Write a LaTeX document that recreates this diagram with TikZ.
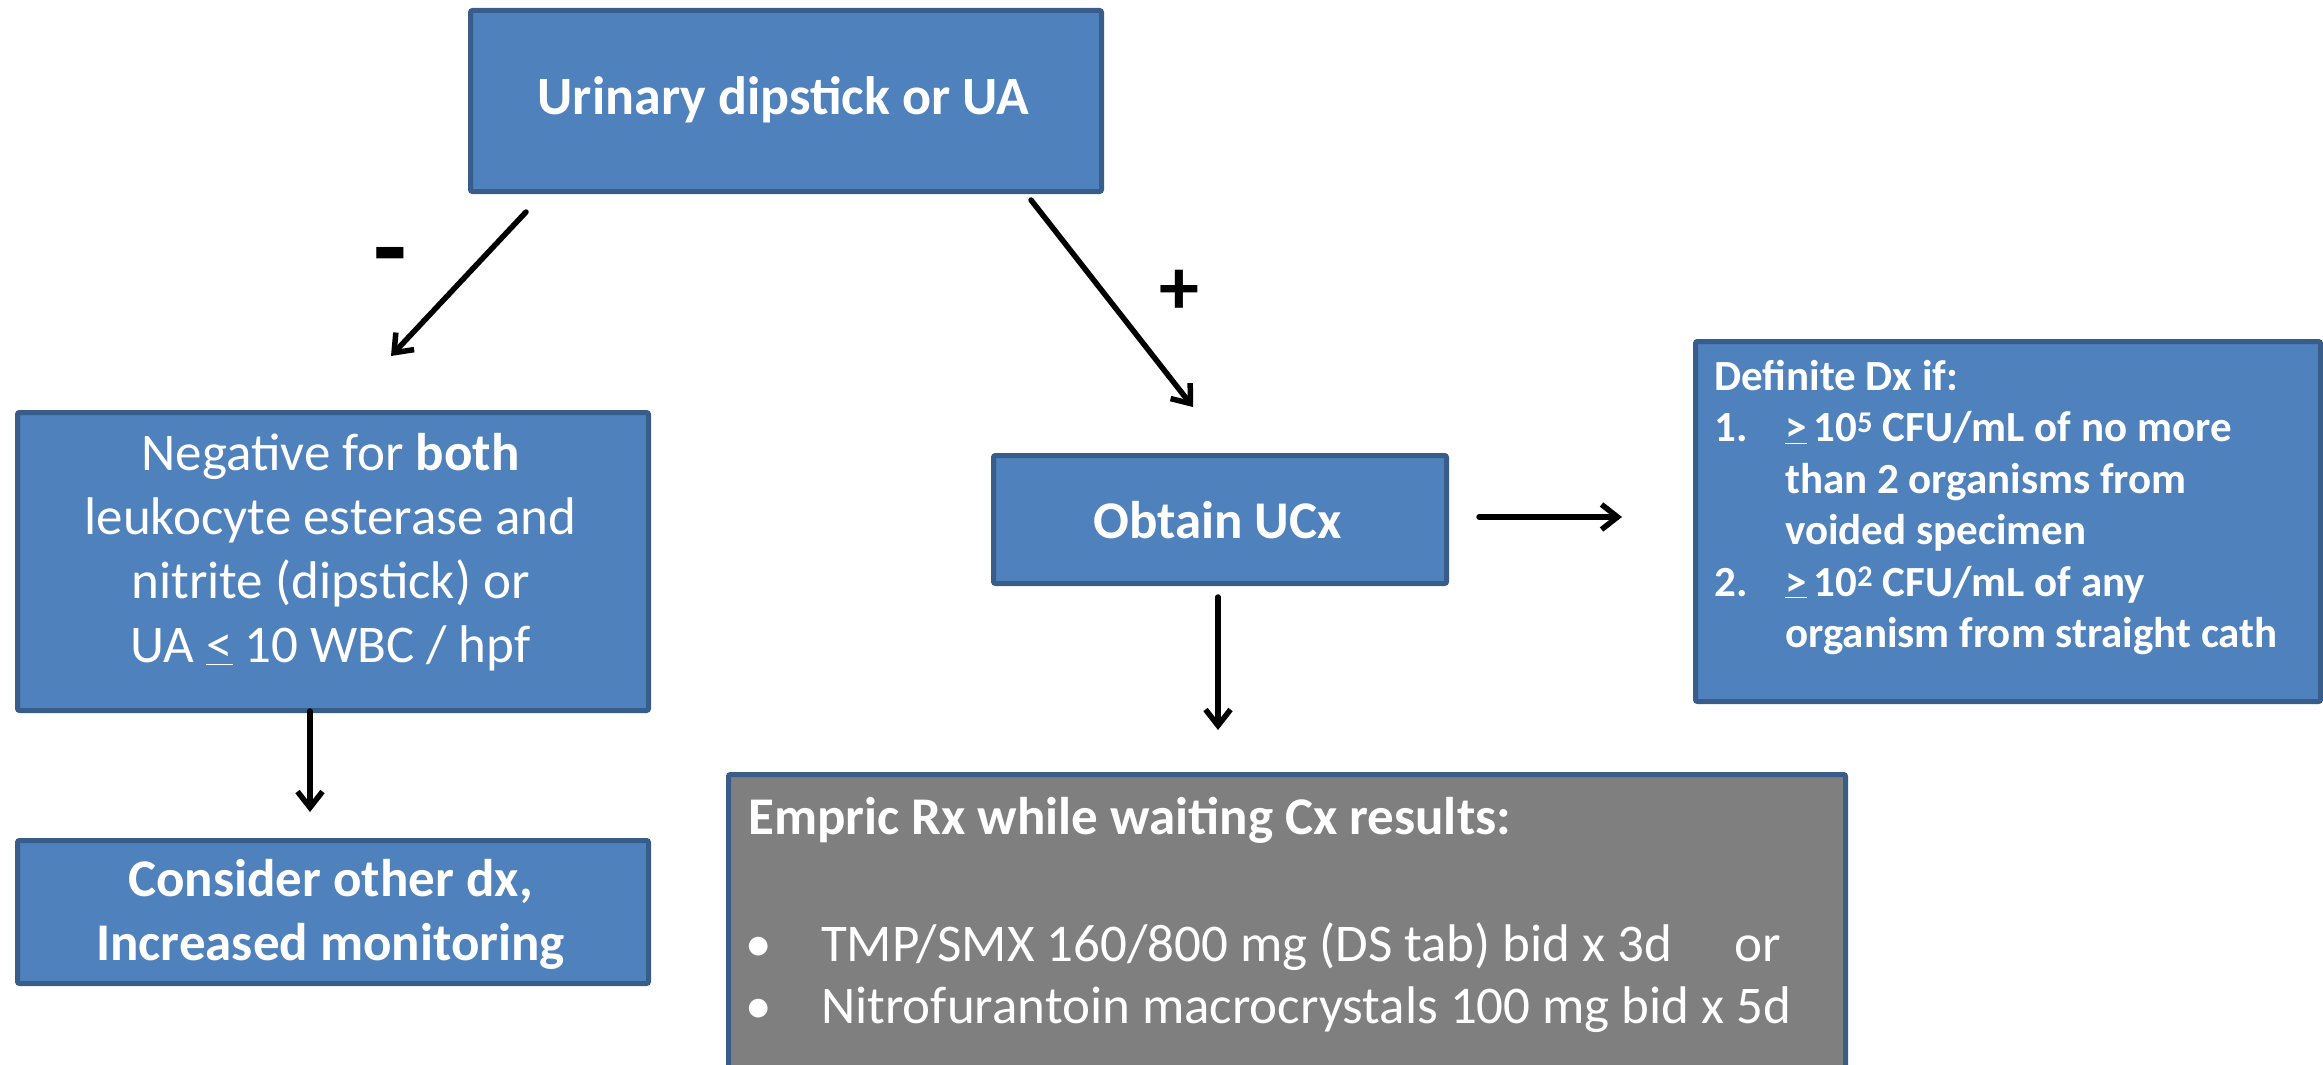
\documentclass[tikz,border=0pt]{standalone}
\usepackage{fontspec}
\setmainfont{Carlito}
\usetikzlibrary{arrows.meta}
\definecolor{boxblue}{HTML}{4F81BD}
\definecolor{boxedge}{HTML}{385D8A}
\definecolor{boxgray}{HTML}{7F7F7F}
\tikzset{
  bluebox/.style={draw=boxedge, fill=boxblue, line width=5pt, rounded corners=2pt, inner sep=0pt, anchor=north west},
  graybox/.style={draw=boxedge, fill=boxgray, line width=5pt, rounded corners=2pt, inner sep=0pt, anchor=north west},
  wtxt/.style={text=white, inner sep=0pt, align=center},
  ltxt/.style={text=white, inner sep=0pt, anchor=base west},
  flow/.style={draw=black, line width=5.5pt, line cap=round, -{Straight Barb[length=16pt,width=25pt]}},
  sign/.style={text=black, inner sep=0pt}
}
\begin{document}
\begin{tikzpicture}[x=1pt,y=-1pt]
\useasboundingbox (0,0) rectangle (2323,1065);
\clip (0,0) rectangle (2323,1065);
% boxes
\node[bluebox, minimum width=631pt, minimum height=181pt] (top) at (468,8) {};
\node[bluebox, minimum width=631pt, minimum height=298pt] (neg) at (15,410) {};
\node[bluebox, minimum width=631pt, minimum height=143pt] (other) at (15,838) {};
\node[bluebox, minimum width=453pt, minimum height=128pt] (ucx) at (991,453) {};
\node[bluebox, minimum width=625pt, minimum height=360pt] (dx) at (1693,339) {};
\node[graybox, minimum width=1117pt, minimum height=330pt] (rx) at (726,772) {};
% texts
\node[wtxt, font=\fontsize{54}{64}\selectfont\bfseries] (toptxt) at (783.5,100) {Urinary dipstick or UA};
\node[wtxt, font=\fontsize{53}{64}\selectfont] (negtxt) at (330.5,552)
  {Negative for \textbf{both}\\ leukocyte esterase and\\ nitrite (dipstick) or\\ UA \underline{<} 10 WBC / hpf};
\node[wtxt, font=\fontsize{53}{64}\selectfont\bfseries] (othertxt) at (330.5,914)
  {Consider other dx,\\ Increased monitoring};
\node[wtxt, font=\fontsize{53}{64}\selectfont\bfseries] (ucxtxt) at (1217.5,520) {Obtain UCx};
\node[ltxt, font=\fontsize{43}{51.5}\selectfont\bfseries] (dxtxt) at (1714,390)
  {\begin{tabular}[t]{@{}l@{}}
   Definite Dx if:\\
   \makebox[71pt][l]{1.}\underline{>}\,10\textsuperscript{5} CFU/mL of no more\\
   \hspace*{71pt}than 2 organisms from\\
   \hspace*{71pt}voided specimen\\
   \makebox[71pt][l]{2.}\underline{>}\,10\textsuperscript{2} CFU/mL of any\\
   \hspace*{71pt}organism from straight cath
   \end{tabular}};
\node[ltxt, font=\fontsize{53}{62}\selectfont\bfseries] (rxtitle) at (748,834)
  {Empric Rx while waiting Cx results:};
\node[ltxt, font=\fontsize{53}{62}\selectfont] (rxlist) at (745,961)
  {\begin{tabular}[t]{@{}l@{}}
   \makebox[76pt][l]{\textbullet}TMP/SMX 160/800 mg (DS tab) bid x 3d\hspace{62pt}or\\
   \makebox[76pt][l]{\textbullet}Nitrofurantoin macrocrystals 100 mg bid x 5d
   \end{tabular}};
% signs
\node[sign, font=\fontsize{110}{110}\selectfont\bfseries] (minus) at (390,266) {-};
\node[sign, font=\fontsize{80}{80}\selectfont\bfseries] (plus) at (1179,292) {+};
% connector ends
\coordinate (a1s) at (526,212);
\coordinate (a1e) at (391,356);
\coordinate (a2s) at (1031,200);
\coordinate (a2e) at (1193,407);
\coordinate (a3s) at (310,711);
\coordinate (a3e) at (310,812);
\coordinate (a4s) at (1479,517);
\coordinate (a4e) at (1622,517);
\coordinate (a5s) at (1218,597);
\coordinate (a5e) at (1218,730);
\draw[flow] (a1s) -- (a1e);
\draw[flow] (a2s) -- (a2e);
\draw[flow] (a3s) -- (a3e);
\draw[flow] (a4s) -- (a4e);
\draw[flow] (a5s) -- (a5e);
\end{tikzpicture}
\end{document}
